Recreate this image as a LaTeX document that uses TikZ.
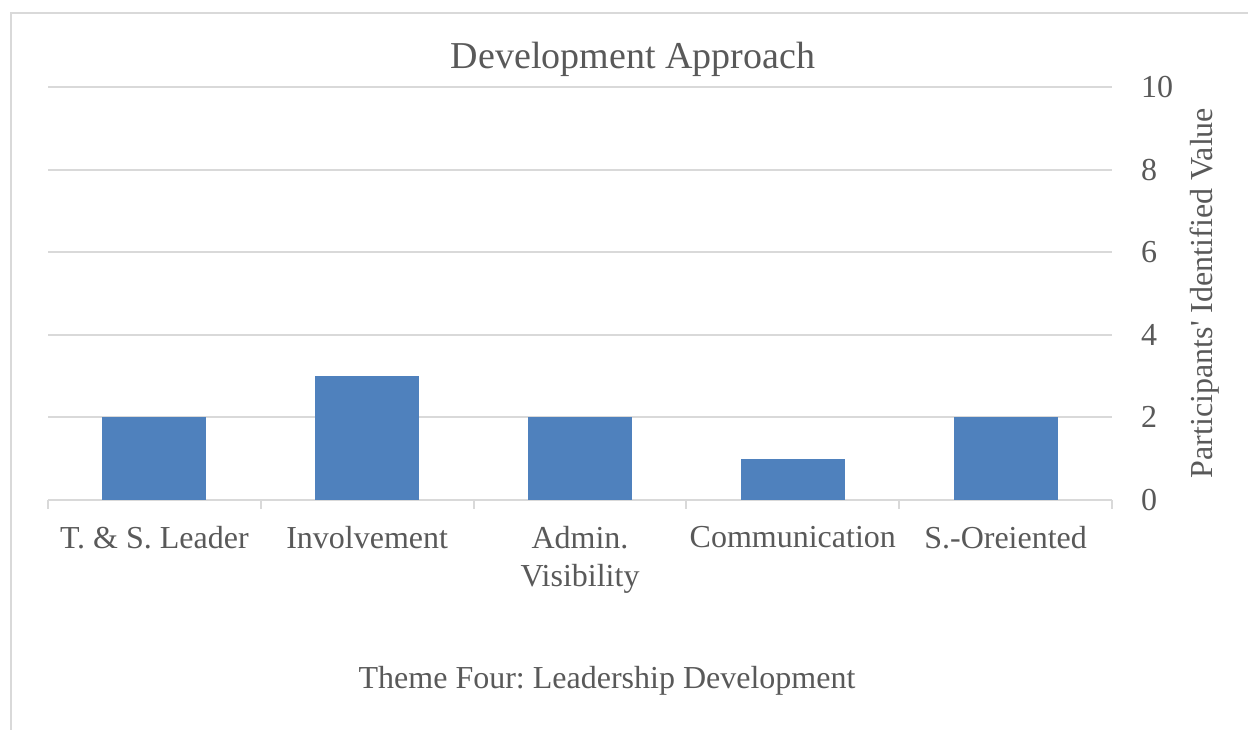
\documentclass[tikz,border=0pt]{standalone}
\usepackage{fontspec}
\setmainfont{Liberation Serif}
\definecolor{gridgray}{HTML}{D9D9D9}
\definecolor{textgray}{HTML}{595959}
\definecolor{barblue}{HTML}{4F81BD}

\begin{document}
\begin{tikzpicture}[x=1pt, y=-1pt,
    txt/.style={text=textgray, inner sep=0pt, font=\fontsize{32}{38}\selectfont\frenchspacing},
    gridline/.style={draw=gridgray, line width=2pt},
    bar/.style={fill=barblue}]
  \useasboundingbox (0,0) rectangle (1248,730);
  % chart frame
  \draw[gridline] (11,730) -- (11,13) -- (1248,13);
  % value grid and labels
  \foreach \v in {0,2,...,10} {
    \draw[gridline] (48,{500-41.3*\v}) -- (1112,{500-41.3*\v});
    \node[txt, anchor=west] (tick\v) at (1141,{500-41.3*\v}) {\v};
  }
  \foreach \i in {0,...,5}
    \draw[gridline] ({48+212.8*\i},500) -- ({48+212.8*\i},509);
  % bars
  \foreach \v [count=\i from 0] in {2,3,2,1,2}
    \fill[bar] ({154.4+212.8*\i-52},500) rectangle ({154.4+212.8*\i+52},{500-41.3*\v});
  % category labels
  \foreach \t [count=\i from 0] in {T. \& S. Leader, Involvement, {Admin.\\Visibility}, Communication, S.-Oreiented}
    \node[txt, anchor=north, align=center] (cat\i) at ({154.4+212.8*\i},526) {\t};
  \node[txt, anchor=base, font=\fontsize{38}{40}\selectfont] (title) at (633,69) {Development Approach};
  \node[txt, anchor=base] (xtitle) at (607,688) {Theme Four: Leadership Development};
  \node[txt, anchor=base, rotate=90] (ytitle) at (1212,293) {Participants\textquotesingle\ Identified Value};
\end{tikzpicture}
\end{document}
